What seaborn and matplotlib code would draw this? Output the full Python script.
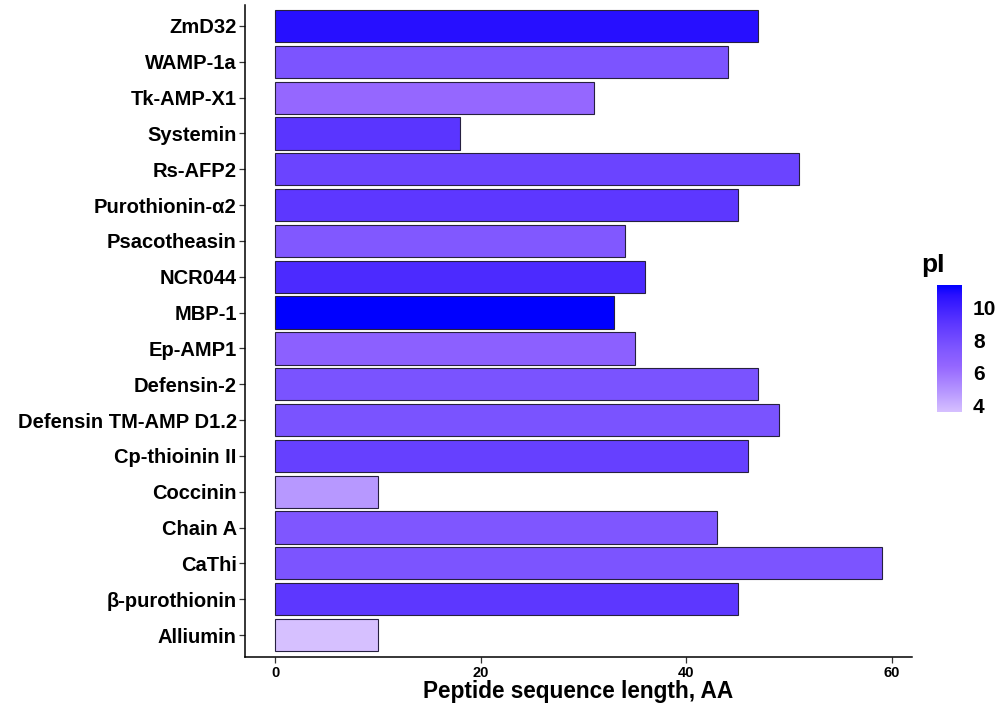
import matplotlib
matplotlib.use("Agg")
import matplotlib.pyplot as plt
import seaborn as sns
import pandas as pd
import numpy as np
from matplotlib.colors import LinearSegmentedColormap, Normalize
from matplotlib.cm import ScalarMappable

peptides = ["ZmD32", "WAMP-1a", "Tk-AMP-X1", "Systemin", "Rs-AFP2", "Purothionin-α2",
            "Psacotheasin", "NCR044", "MBP-1", "Ep-AMP1", "Defensin-2",
            "Defensin TM-AMP D1.2", "Cp-thioinin II", "Coccinin", "Chain A", "CaThi",
            "β-purothionin", "Alliumin"]
lengths = [47, 44, 31, 18, 51, 45, 34, 36, 33, 35, 47, 49, 46, 10, 43, 59, 45, 10]
pI = [10.8, 7.6, 6.4, 9.1, 8.4, 9.0, 7.4, 9.6, 11.4, 6.8, 7.7, 7.7, 8.6, 4.8, 7.5, 7.6, 9.0, 3.6]
cbar_ticks = [4, 6, 8, 10]

sns.set_style("white")
plt.rcParams['font.family'] = ['Liberation Sans', 'DejaVu Sans']

df = pd.DataFrame({"peptide": peptides, "length": lengths, "pI": pI})

cmap = LinearSegmentedColormap.from_list("pi", [
    (0.0, "#D6C0FF"), (0.15, "#B899FF"), (0.36, "#9466FF"), (0.51, "#7D55FF"),
    (0.69, "#5E38FF"), (0.92, "#2A10FF"), (1.0, "#0000FF")])
norm = Normalize(vmin=min(pI), vmax=max(pI))
palette = {p: cmap(norm(v)) for p, v in zip(peptides, pI)}

fig = plt.figure(figsize=(10.02, 7.04), dpi=100)
ax = fig.add_axes([245/1002, 1 - 656.5/704, (912-245)/1002, (656.5-4.5)/704])

sns.barplot(data=df, x="length", y="peptide", hue="peptide", palette=palette,
            order=peptides, hue_order=peptides, dodge=False, legend=False,
            width=0.9, edgecolor="#262040", linewidth=0.8, saturation=1, ax=ax)

ax.set_xlim(-2.95, 61.95)
ax.set_ylim(len(peptides) - 0.4, -0.6)
ax.set_xticks([0, 20, 40, 60])
for s in ["top", "right"]:
    ax.spines[s].set_visible(False)
for s in ["left", "bottom"]:
    ax.spines[s].set_color("black")
    ax.spines[s].set_linewidth(1.1)
ax.tick_params(axis="both", which="both", direction="out", length=4, width=0.9,
               color="#333333", left=True, bottom=True)
ax.tick_params(axis="y", labelsize=14.5, pad=2, labelcolor="black")
ax.tick_params(axis="x", labelsize=10.5, pad=3, labelcolor="black")
for lab in ax.get_yticklabels() + ax.get_xticklabels():
    lab.set_fontweight("bold")
ax.set_ylabel("")
ax.set_xlabel("Peptide sequence length, AA", fontsize=16.3, fontweight="bold",
              labelpad=0, color="black")

# colorbar legend
cax = fig.add_axes([937/1002, 1 - 412/704, 25/1002, 127/704])
sm = ScalarMappable(norm=norm, cmap=cmap)
cb = fig.colorbar(sm, cax=cax, ticks=cbar_ticks)
cb.outline.set_visible(False)
cax.tick_params(axis="y", direction="in", length=5, width=0.8, color="white",
                left=True, right=True, labelsize=15, pad=8, labelcolor="black")
for lab in cax.get_yticklabels():
    lab.set_fontweight("bold")
fig.text(921/1002, 1 - 265/704, "pI", fontsize=19, fontweight="bold", va="center",
         ha="left", color="black")

fig.savefig("out.png", dpi=100)
